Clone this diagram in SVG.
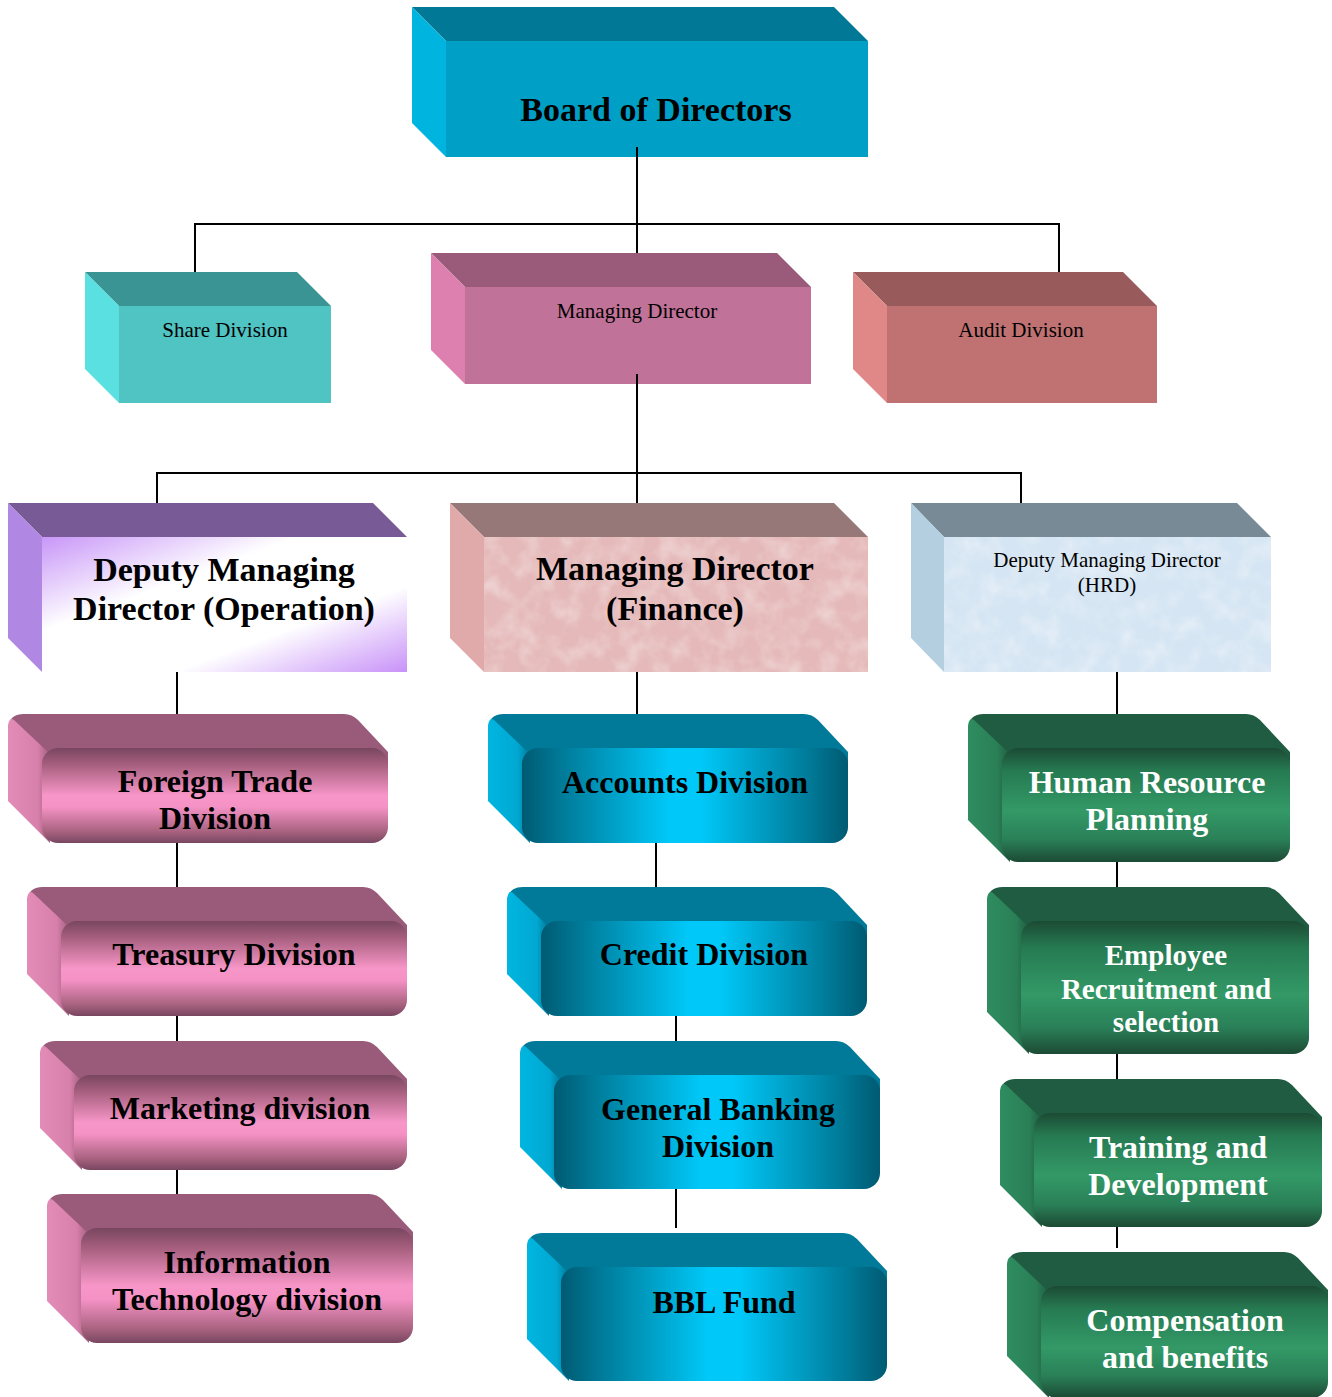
<svg xmlns="http://www.w3.org/2000/svg" width="1332" height="1397" viewBox="0 0 1332 1397">
<style>
.t{font-family:"Liberation Serif","Times New Roman",serif;font-weight:bold;font-size:32px;text-anchor:middle;fill:#000}
.w{fill:#fff}
.r{font-weight:normal;font-size:21px}
.big{font-size:34px}
.pt{fill:#9a5b7b}.pl{fill:url(#pL)}.pf{fill:url(#pF)}
.bt{fill:#007a98}.bl{fill:url(#bL)}.bf{fill:url(#bF)}
.gt{fill:#1f5c41}.gl{fill:url(#gL)}.gf{fill:url(#gF)}
.ln{fill:none;stroke:#000;stroke-width:2}
</style>
<defs>
<linearGradient id="pL" x1="0" y1="0" x2="1" y2="0"><stop offset="0" stop-color="#e48cb8"/><stop offset="0.7" stop-color="#d880ac"/><stop offset="1" stop-color="#a0607f"/></linearGradient>
<linearGradient id="pF" x1="0" y1="0" x2="0" y2="1"><stop offset="0" stop-color="#784660"/><stop offset="0.18" stop-color="#a8607f"/><stop offset="0.5" stop-color="#f796c8"/><stop offset="0.62" stop-color="#f592c5"/><stop offset="0.88" stop-color="#a8627f"/><stop offset="1" stop-color="#784660"/></linearGradient>
<linearGradient id="bL" x1="0" y1="0" x2="1" y2="0"><stop offset="0" stop-color="#00b6e0"/><stop offset="0.7" stop-color="#00a8d2"/><stop offset="1" stop-color="#007898"/></linearGradient>
<linearGradient id="bF" x1="0" y1="0" x2="1" y2="0"><stop offset="0" stop-color="#005a72"/><stop offset="0.12" stop-color="#007a98"/><stop offset="0.45" stop-color="#00c8f8"/><stop offset="0.55" stop-color="#00c8f8"/><stop offset="0.88" stop-color="#007a98"/><stop offset="1" stop-color="#005a72"/></linearGradient>
<linearGradient id="gL" x1="0" y1="0" x2="1" y2="0"><stop offset="0" stop-color="#2f8d60"/><stop offset="0.7" stop-color="#2a7f56"/><stop offset="1" stop-color="#1f5c41"/></linearGradient>
<linearGradient id="gF" x1="0" y1="0" x2="0" y2="1"><stop offset="0" stop-color="#1c4a34"/><stop offset="0.2" stop-color="#267a52"/><stop offset="0.55" stop-color="#339966"/><stop offset="0.8" stop-color="#2a8058"/><stop offset="1" stop-color="#1c4a34"/></linearGradient>
<linearGradient id="opF" x1="0" y1="0" x2="1" y2="1"><stop offset="0" stop-color="#c896f8"/><stop offset="0.35" stop-color="#ffffff"/><stop offset="0.68" stop-color="#ffffff"/><stop offset="1" stop-color="#c892f8"/></linearGradient>
<filter id="tex" x="0" y="0" width="100%" height="100%"><feTurbulence type="fractalNoise" baseFrequency="0.05" numOctaves="3" seed="3"/><feColorMatrix type="matrix" values="0 0 0 0 1  0 0 0 0 1  0 0 0 0 1  0 0 0 0.7 -0.28"/><feComposite in2="SourceGraphic" operator="in"/></filter>
</defs>
<rect width="1332" height="1397" fill="#fff"/>

<g id="board">
<polygon points="412,7 834,7 868,41 446,41" fill="#007896"/>
<polygon points="412,7 446,41 446,157 412,123" fill="#00b4e0"/>
<rect x="446" y="41" width="422" height="116" fill="#009fc6"/>
<text class="t big" x="656" y="121">Board of Directors</text>
</g>

<g id="share">
<polygon points="85,272 297,272 331,306 119,306" fill="#3b9494"/>
<polygon points="85,272 119,306 119,403 85,369" fill="#5ae0e0"/>
<rect x="119" y="306" width="212" height="97" fill="#50c3c3"/>
<text class="t r" x="225" y="337">Share Division</text>
</g>

<g id="md">
<polygon points="431,253 777,253 811,287 465,287" fill="#9a5b7b"/>
<polygon points="431,253 465,287 465,384 431,350" fill="#dd80b0"/>
<rect x="465" y="287" width="346" height="97" fill="#c07298"/>
<text class="t r" x="637" y="318">Managing Director</text>
</g>

<g id="audit">
<polygon points="853,272 1123,272 1157,306 887,306" fill="#985a5a"/>
<polygon points="853,272 887,306 887,403 853,369" fill="#e08888"/>
<rect x="887" y="306" width="270" height="97" fill="#c07272"/>
<text class="t r" x="1021" y="337">Audit Division</text>
</g>

<g id="dmd-op">
<polygon points="8,503 373,503 407,537 42,537" fill="#785a96"/>
<polygon points="8,503 42,537 42,672 8,638" fill="#b088e4"/>
<rect x="42" y="537" width="365" height="135" fill="url(#opF)"/>
<text class="t big" x="224" y="581">Deputy Managing</text>
<text class="t big" x="224" y="620">Director (Operation)</text>
</g>

<g id="md-fin">
<polygon points="450,503 834,503 868,537 484,537" fill="#967878"/>
<polygon points="450,503 484,537 484,672 450,638" fill="#e0aaaa"/>
<rect x="484" y="537" width="384" height="135" fill="#e5b9b9"/>
<rect x="484" y="537" width="384" height="135" fill="#000" filter="url(#tex)"/>
<text class="t big" x="675" y="580">Managing Director</text>
<text class="t big" x="675" y="620">(Finance)</text>
</g>

<g id="dmd-hrd">
<polygon points="911,503 1237,503 1271,537 944,537" fill="#788a96"/>
<polygon points="911,503 944,537 944,672 911,638" fill="#b4d0e0"/>
<rect x="944" y="537" width="327" height="135" fill="#d5e5f3"/>
<rect x="944" y="537" width="327" height="135" fill="#000" filter="url(#tex)"/>
<text class="t r" x="1107" y="567">Deputy Managing Director</text>
<text class="t r" x="1107" y="592">(HRD)</text>
</g>

<g id="foreign">
<path class="pt" d="M8,730 Q8,714 24,714 H344 Q352,714 358,720 L388,752 V768 L62,768 L42,748 Z"/>
<path class="pl" d="M8,730 Q8,716 14,720 L50,754 V843 L8,801 Z"/>
<rect class="pf" x="42" y="748" width="346" height="95" rx="16"/>
<text class="t" x="215" y="792">Foreign Trade</text>
<text class="t" x="215" y="829">Division</text>
</g>

<g id="treasury">
<path class="pt" d="M27,903 Q27,887 43,887 H363 Q371,887 377,893 L407,925 V941 L81,941 L61,921 Z"/>
<path class="pl" d="M27,903 Q27,889 33,893 L69,927 V1016 L27,974 Z"/>
<rect class="pf" x="61" y="921" width="346" height="95" rx="16"/>
<text class="t" x="234" y="965">Treasury Division</text>
</g>

<g id="marketing">
<path class="pt" d="M40,1057 Q40,1041 56,1041 H363 Q371,1041 377,1047 L407,1079 V1095 L94,1095 L74,1075 Z"/>
<path class="pl" d="M40,1057 Q40,1043 46,1047 L82,1081 V1170 L40,1128 Z"/>
<rect class="pf" x="74" y="1075" width="333" height="95" rx="16"/>
<text class="t" x="240" y="1119">Marketing division</text>
</g>

<g id="it">
<path class="pt" d="M47,1210 Q47,1194 63,1194 H369 Q377,1194 383,1200 L413,1232 V1248 L101,1248 L81,1228 Z"/>
<path class="pl" d="M47,1210 Q47,1196 53,1200 L89,1234 V1343 L47,1301 Z"/>
<rect class="pf" x="81" y="1228" width="332" height="115" rx="16"/>
<text class="t" x="247" y="1273">Information</text>
<text class="t" x="247" y="1310">Technology division</text>
</g>

<g id="accounts">
<path class="bt" d="M488,730 Q488,714 504,714 H804 Q812,714 818,720 L848,752 V768 L542,768 L522,748 Z"/>
<path class="bl" d="M488,730 Q488,716 494,720 L530,754 V843 L488,801 Z"/>
<rect class="bf" x="522" y="748" width="326" height="95" rx="16"/>
<text class="t" x="685" y="793">Accounts Division</text>
</g>

<g id="credit">
<path class="bt" d="M507,903 Q507,887 523,887 H823 Q831,887 837,893 L867,925 V941 L561,941 L541,921 Z"/>
<path class="bl" d="M507,903 Q507,889 513,893 L549,927 V1016 L507,974 Z"/>
<rect class="bf" x="541" y="921" width="326" height="95" rx="16"/>
<text class="t" x="704" y="965">Credit Division</text>
</g>

<g id="general-banking">
<path class="bt" d="M520,1057 Q520,1041 536,1041 H836 Q844,1041 850,1047 L880,1079 V1095 L574,1095 L554,1075 Z"/>
<path class="bl" d="M520,1057 Q520,1043 526,1047 L562,1081 V1189 L520,1147 Z"/>
<rect class="bf" x="554" y="1075" width="326" height="114" rx="16"/>
<text class="t" x="718" y="1120">General Banking</text>
<text class="t" x="718" y="1157">Division</text>
</g>

<g id="bbl">
<path class="bt" d="M527,1249 Q527,1233 543,1233 H843 Q851,1233 857,1239 L887,1271 V1287 L581,1287 L561,1267 Z"/>
<path class="bl" d="M527,1249 Q527,1235 533,1239 L569,1273 V1381 L527,1339 Z"/>
<rect class="bf" x="561" y="1267" width="326" height="114" rx="16"/>
<text class="t" x="724" y="1313">BBL Fund</text>
</g>

<g id="hrp">
<path class="gt" d="M968,730 Q968,714 984,714 H1246 Q1254,714 1260,720 L1290,752 V768 L1022,768 L1002,748 Z"/>
<path class="gl" d="M968,730 Q968,716 974,720 L1010,754 V862 L968,820 Z"/>
<rect class="gf" x="1002" y="748" width="288" height="114" rx="16"/>
<text class="t w" x="1147" y="793">Human Resource</text>
<text class="t w" x="1147" y="830">Planning</text>
</g>

<g id="recruitment">
<path class="gt" d="M987,903 Q987,887 1003,887 H1265 Q1273,887 1279,893 L1309,925 V941 L1041,941 L1021,921 Z"/>
<path class="gl" d="M987,903 Q987,889 993,893 L1029,927 V1054 L987,1012 Z"/>
<rect class="gf" x="1021" y="921" width="288" height="133" rx="16"/>
<text class="t w" x="1166" y="965" style="font-size:29px">Employee</text>
<text class="t w" x="1166" y="999" style="font-size:29px">Recruitment and</text>
<text class="t w" x="1166" y="1032" style="font-size:29px">selection</text>
</g>

<g id="training">
<path class="gt" d="M1000,1095 Q1000,1079 1016,1079 H1278 Q1286,1079 1292,1085 L1322,1117 V1133 L1054,1133 L1034,1113 Z"/>
<path class="gl" d="M1000,1095 Q1000,1081 1006,1085 L1042,1119 V1227 L1000,1185 Z"/>
<rect class="gf" x="1034" y="1113" width="288" height="114" rx="16"/>
<text class="t w" x="1178" y="1158">Training and</text>
<text class="t w" x="1178" y="1195">Development</text>
</g>

<g id="compensation">
<path class="gt" d="M1007,1268 Q1007,1252 1023,1252 H1284 Q1292,1252 1298,1258 L1328,1290 V1306 L1061,1306 L1041,1286 Z"/>
<path class="gl" d="M1007,1268 Q1007,1254 1013,1258 L1049,1292 V1398 L1007,1356 Z"/>
<rect class="gf" x="1041" y="1286" width="287" height="112" rx="16"/>
<text class="t w" x="1185" y="1331">Compensation</text>
<text class="t w" x="1185" y="1368">and benefits</text>
</g>

<g id="connectors" class="ln">
<path d="M637,147 V253"/>
<path d="M195,272 V224 H1059 V272"/>
<path d="M637,374 V503"/>
<path d="M157,503 V473 H1021 V503"/>
<path d="M177,672 V714"/>
<path d="M177,843 V887"/>
<path d="M177,1016 V1041"/>
<path d="M177,1170 V1194"/>
<path d="M637,672 V714"/>
<path d="M656,843 V887"/>
<path d="M676,1016 V1041"/>
<path d="M676,1189 V1228"/>
<path d="M1117,672 V714"/>
<path d="M1117,862 V887"/>
<path d="M1117,1054 V1079"/>
<path d="M1117,1227 V1248"/>
</g>
</svg>
